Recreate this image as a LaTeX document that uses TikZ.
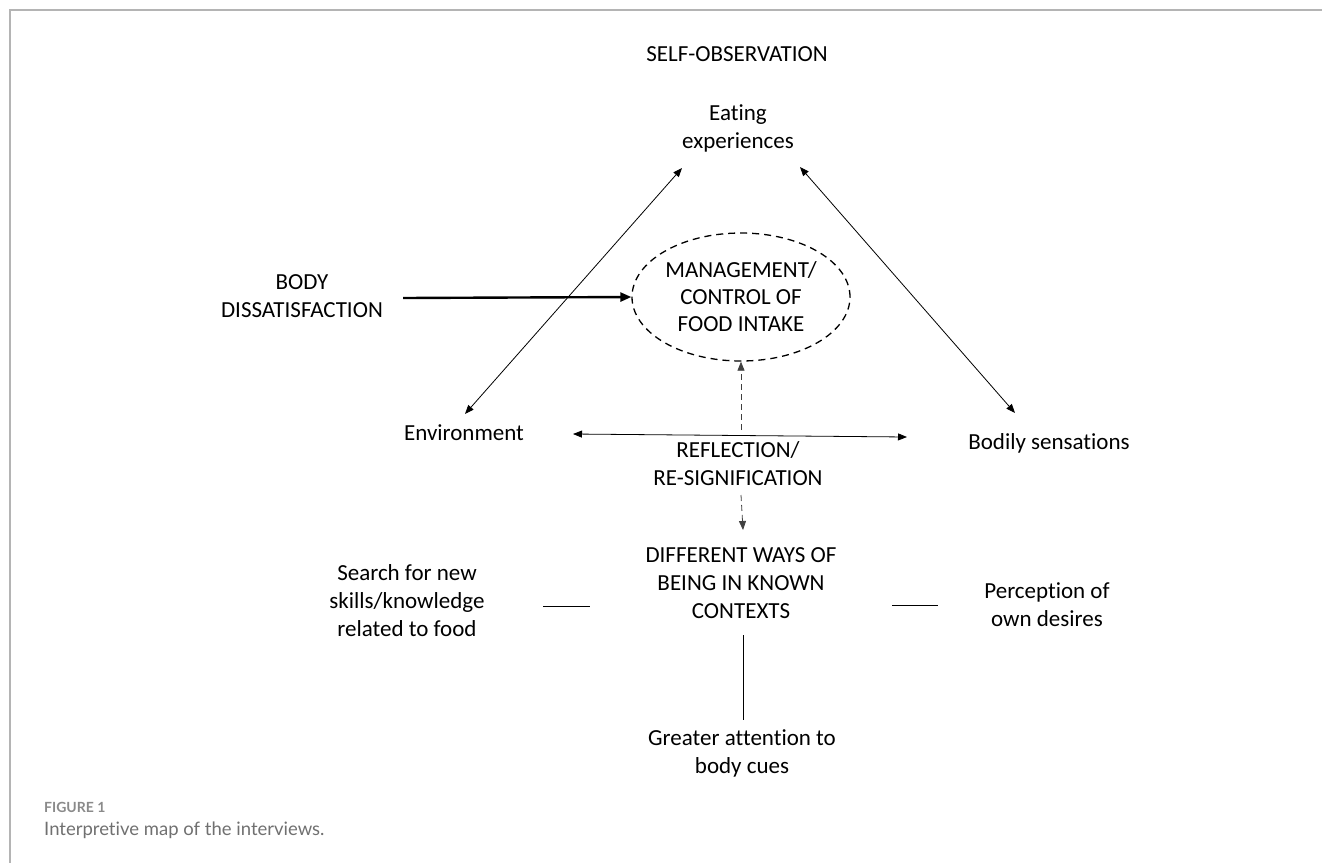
\documentclass[tikz,border=0pt]{standalone}
\usepackage{fontspec}
\setmainfont{Carlito}[Ligatures=NoCommon]
\newfontfamily\capfont{Lato}[Ligatures=NoCommon]
\usepackage{tikz}
\usepackage{xcolor}
\usetikzlibrary{positioning, arrows.meta, calc, shapes.geometric}

\definecolor{framegray}{HTML}{B4B4B4}
\definecolor{capgray}{HTML}{707070}
\definecolor{figgray}{HTML}{8A8A8A}

\begin{document}
\begin{tikzpicture}[
            x=1pt, y=-1pt,
            >={Triangle[length=9pt, width=7pt]},
            % Styles for the interview map
            concept/.style={align=center, inner sep=0pt, font=\fontsize{23}{28}\selectfont},
            focus/.style={ellipse, draw, dashed, line width=1.3pt, dash pattern=on 7pt off 5pt,
                    minimum width=218pt, minimum height=128pt, inner sep=0pt, align=center,
                    font=\fontsize{23}{27}\selectfont},
            twoway/.style={<->, line width=0.8pt},
            bigarrow/.style={-{Triangle[length=11pt, width=9pt]}, line width=2.4pt},
            dasharrow/.style={->, line width=0.8pt, dash pattern=on 6pt off 4pt, black!75},
            link/.style={line width=1pt},
            caption/.style={anchor=west, inner sep=0pt, text=capgray},
    ]
            \useasboundingbox (0,0) rectangle (1322,863);

            % === FRAME ===
            \draw[framegray, line width=1.5pt] (1322,10) -- (10,10) -- (10,863);

            % === TOP (Self-observation) ===
            \node[concept] (selfobs) at (737,54) {SELF-OBSERVATION};
            \node[concept] (eating) at (738,128) {Eating\\experiences};

            % === MIDDLE ===
            \node[concept] (body) at (302,296) {BODY\\DISSATISFACTION};
            \node[focus] (manage) at (741,297) {MANAGEMENT/\\CONTROL OF\\FOOD INTAKE};
            \node[concept] (env) at (464,433) {Environment};
            \node[concept] (bodily) at (1049,443) {Bodily sensations};
            \node[concept] (reflect) at (738,464) {REFLECTION/\\RE-SIGNIFICATION};

            % === BOTTOM ===
            \node[concept] (ways) at (741,583) {DIFFERENT WAYS OF\\BEING IN KNOWN\\CONTEXTS};
            \node[concept] (search) at (407,601) {Search for new\\skills/knowledge\\related to food};
            \node[concept] (percept) at (1047,605) {Perception of\\own desires};
            \node[concept] (greater) at (742,753) {Greater attention to\\body cues};

            % === CAPTION ===
            \node[caption, text=figgray, font=\capfont\bfseries\fontsize{14}{16}\selectfont] (fig) at (44,807) {FIGURE 1};
            \node[caption, font=\capfont\fontsize{18.5}{22}\selectfont] (captext) at (44,830) {Interpretive map of the interviews.};

            % === CONNECTIONS ===
            % Triangle round the eating experiences
            \draw[twoway] ($(env)+(1,-19)$) -- ($(eating)+(-56,40)$);
            \draw[twoway] ($(eating)+(62,39)$) -- ($(bodily)+(-34,-30)$);
            \draw[twoway] ($(env)+(109,1)$) -- ($(bodily)+(-142,-6)$);

            % Body dissatisfaction into the management ellipse
            \draw[bigarrow] ($(body)+(101,2)$) -- (manage.west);

            % Reflection up and down
            \draw[dasharrow] ($(reflect)+(3,-34)$) -- (manage.south);
            \draw[dasharrow] ($(reflect)+(3,31)$) -- ($(ways)+(2,-53)$);

            % Plain links from the different ways
            \draw[link] ($(search)+(136,5)$) -- ($(ways)+(-151,23)$);
            \draw[link] ($(ways)+(151,22)$) -- ($(percept)+(-109,0)$);
            \draw[link] ($(ways)+(2,52)$) -- ($(greater)+(1,-33)$);

        \end{tikzpicture}
\end{document}
